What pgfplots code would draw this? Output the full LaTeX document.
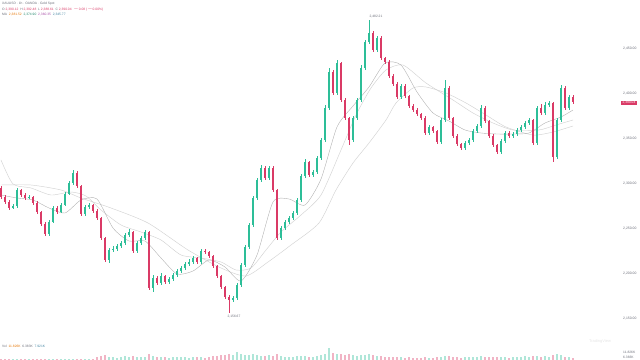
\documentclass[border=0pt]{standalone}
\usepackage{pgfplots}
\pgfplotsset{compat=1.18}
\usepackage{pgfplotstable}
\usepackage{fontspec}
\setmainfont{Liberation Sans}
\definecolor{cgreen}{HTML}{2DBE98}
\definecolor{cred}{HTML}{DA3A66}
\definecolor{malin}{HTML}{D2D2D2}
\definecolor{txtg}{HTML}{6A6D78}

\pgfplotstableread{
i o h l c v
0 172 174 161 163 1
1 163 165 156 158 1
2 158 160 150 152 1
3 152 156 151 154 1
4 154 172 152 170 1
5 170 171 163 165 1
6 165 167 160 162 1
7 162 165 161 163 1
8 163 164 155 157 1
9 157 159 146 148 1
10 148 149 134 136 1
11 136 138 124 126 1
12 126 140 124 138 1
13 138 154 137 152 1
14 152 154 146 148 1
15 148 157 147 155 1
16 155 168 154 166 1
17 166 179 165 177 1
18 177 190 175 187 1
19 187 189 172 174 1
20 174 175 144 146 1
21 146 155 144 153 1
22 153 157 151 155 1
23 155 156 147 149 1
24 149 151 140 142 3
25 142 143 120 122 4
26 122 123 98 100 5
27 100 112 97 110 3
28 110 114 108 111 3
29 111 116 109 114 2
30 114 119 112 117 3
31 117 127 115 125 4
32 125 131 123 128 3
33 128 129 107 109 4
34 109 119 107 117 3
35 117 124 115 122 3
36 122 130 120 128 3
37 128 129 70 72 6
38 72 85 68 82 4
39 82 84 75 77 3
40 77 87 75 84 3
41 84 85 76 78 3
42 78 83 76 81 2
43 81 87 79 85 3
44 85 91 83 89 3
45 89 94 87 92 3
46 92 98 90 96 3
47 96 101 94 98 2
48 98 104 96 102 3
49 102 103 96 98 3
50 98 111 96 109 3
51 109 111 106 108 2
52 108 109 102 104 3
53 104 105 92 94 4
54 94 95 82 84 4
55 84 85 71 73 5
56 73 74 61 63 5
57 63 65 47 60 6
58 60 64 58 62 5
59 62 77 60 75 8
60 75 97 73 95 6
61 95 115 93 113 5
62 113 137 111 135 5
63 135 164 133 162 6
64 162 182 160 180 5
65 180 195 178 192 4
66 192 194 180 182 4
67 182 194 180 192 5
68 192 194 168 170 4
69 170 171 120 122 6
70 122 134 120 132 4
71 132 140 130 138 3
72 138 144 136 142 3
73 142 149 140 147 3
74 147 162 145 160 4
75 160 186 158 184 4
76 184 201 182 198 4
77 198 199 183 185 3
78 185 190 183 188 3
79 188 204 186 202 4
80 202 222 200 220 5
81 220 255 218 252 6
82 252 292 250 288 12
83 288 290 265 267 7
84 267 300 265 297 6
85 297 298 258 260 6
86 260 262 240 242 5
87 242 243 215 220 6
88 220 244 218 242 5
89 242 262 240 260 4
90 260 295 258 292 5
91 292 320 290 318 5
92 318 340 316 327 6
93 327 329 308 310 5
94 310 324 308 322 4
95 322 324 300 302 4
96 302 303 296 298 3
97 298 300 282 284 3
98 284 286 274 276 3
99 276 278 261 263 3
100 263 276 261 274 3
101 274 276 262 264 2
102 264 265 252 254 3
103 254 256 248 250 2
104 250 252 244 246 2
105 246 247 240 242 2
106 242 244 225 227 3
107 227 235 225 233 2
108 233 234 227 229 2
109 229 230 216 218 3
110 218 242 216 240 3
111 240 280 238 272 4
112 272 274 240 242 4
113 242 243 222 224 3
114 224 226 214 216 3
115 216 217 210 212 2
116 212 219 210 217 3
117 217 222 215 220 3
118 220 231 218 229 3
119 229 236 227 234 3
120 234 255 232 252 4
121 252 254 237 239 3
122 239 240 222 224 3
123 224 226 213 215 3
124 215 216 206 208 3
125 208 221 206 219 3
126 219 229 217 227 3
127 227 229 222 224 2
128 224 228 222 226 3
129 226 232 224 230 3
130 230 235 228 233 3
131 233 239 231 237 4
132 237 242 235 240 3
133 240 241 215 217 4
134 217 254 215 252 4
135 252 256 245 247 3
136 247 258 245 255 4
137 255 259 253 257 3
138 257 258 198 203 5
139 203 242 201 240 6
140 240 275 238 272 5
141 272 274 250 252 3
142 252 265 250 263 3
143 263 265 256 258 2
}\candles

\pgfplotstableread{
i v
0 165
4 162
8 160
12 152
16 147
20 160
24 161
28 132
32 119
36 119
40 102
44 86
48 89
52 100
56 93
60 79
64 105
68 158
72 161
76 155
80 181
84 233
88 254
92 273
96 297
100 295
104 268
108 247
112 239
116 230
120 227
124 226
128 226
132 227
136 237
140 243
143 250
}\maA

\pgfplotstableread{
i v
0 200
3 176
7.5 172
12.5 165
17.5 168
21.25 164
25 150
30 135
35 128
40 120
45 105
50 102
55 98
58.75 90
62.5 92
66.25 110
70 128
75 145
80 165
85 210
88.75 245
92.5 272
96.25 290
100.5 295
106.25 277
113 260
118 247
123 237
128 230
134.5 230
138.75 235
143 240
}\maB

\pgfplotstableread{
i v
0 175
7.5 175
15 170
20 162
27.5 152
36.75 137
46.75 110
55 92
61.25 84
66.75 98
72.5 115
79.5 137
83.75 170
88 197
92 217
96.25 240
98.75 257
103 272
106.25 273
111.25 267
116.25 257
121.25 245
126.25 233
133 225
138 228
143 234
}\maC

\begin{document}
\begin{tikzpicture}
\begin{axis}[
  at={(0,0)}, anchor=south west,
  scale only axis, width=610bp, height=360bp,
  xmin=-0.25, xmax=152.25, ymin=0, ymax=360,
  axis line style={draw=none},
  xtick=\empty,
  ytick={41,86,131,176,221,266,311},
  yticklabels={{2,150.00},{2,200.00},{2,250.00},{2,300.00},{2,350.00},{2,400.00},{2,450.00}},
  yticklabel pos=right,
  major tick length=0pt,
  yticklabel style={font=\fontsize{3.4}{4}\selectfont, text=txtg, anchor=west, inner sep=0pt, xshift=13bp},
  clip=true,
]
% moving averages
\addplot[malin, line width=0.45bp, smooth, tension=0.4] table[x=i, y=v] {\maC};
\addplot[malin, line width=0.45bp, smooth, tension=0.4] table[x=i, y=v] {\maB};
\addplot[malin!85!black, line width=0.4bp, smooth, tension=0.4] table[x=i, y=v] {\maA};
% wicks up
\addplot[draw=none, mark=none, restrict expr to domain={\thisrow{c}-\thisrow{o}}{0:1000},
  error bars/.cd, y dir=plus, y explicit, error mark=none,
  error bar style={line width=0.5bp, color=cgreen}]
  table[x=i, y=l, y error plus expr=\thisrow{h}-\thisrow{l}] {\candles};
% wicks down
\addplot[draw=none, mark=none, restrict expr to domain={\thisrow{c}-\thisrow{o}}{-1000:-0.001},
  error bars/.cd, y dir=plus, y explicit, error mark=none,
  error bar style={line width=0.5bp, color=cred}]
  table[x=i, y=l, y error plus expr=\thisrow{h}-\thisrow{l}] {\candles};
% bodies up
\addplot[draw=none, mark=none, restrict expr to domain={\thisrow{c}-\thisrow{o}}{0:1000},
  error bars/.cd, y dir=plus, y explicit, error mark=none,
  error bar style={line width=2.3bp, color=cgreen}]
  table[x=i, y=o, y error plus expr=\thisrow{c}-\thisrow{o}] {\candles};
% bodies down
\addplot[draw=none, mark=none, restrict expr to domain={\thisrow{c}-\thisrow{o}}{-1000:-0.001},
  error bars/.cd, y dir=plus, y explicit, error mark=none,
  error bar style={line width=2.3bp, color=cred}]
  table[x=i, y=c, y error plus expr=\thisrow{o}-\thisrow{c}] {\candles};
% volume
\addplot[ycomb, line width=2bp, color=cgreen!38, mark=none,
  restrict expr to domain={\thisrow{c}-\thisrow{o}}{0:1000}]
  table[x=i, y=v] {\candles};
\addplot[ycomb, line width=2bp, color=cred!38, mark=none,
  restrict expr to domain={\thisrow{c}-\thisrow{o}}{-1000:-0.001}]
  table[x=i, y=v] {\candles};
\end{axis}
% legend texts
\begin{scope}[font=\fontsize{3.3}{4}\selectfont]
\node[anchor=west, inner sep=0pt, text=txtg] at (2bp,356bp) {XAUUSD · 1h · OANDA · Gold Spot};
\node[anchor=west, inner sep=0pt, text=txtg] at (2bp,350.5bp) {O \textcolor{cred}{2,390.12}\ \ H \textcolor{cred}{2,392.48}\ \ L \textcolor{cred}{2,388.61}\ \ C \textcolor{cred}{2,390.04}\ \ \textcolor{cred}{$-$0.08 ($-$0.00\%)}};
\node[anchor=west, inner sep=0pt, text=txtg] at (2bp,345.5bp) {MA\ \ \textcolor{orange!90!black}{2,381.52}\ \ \textcolor{cgreen!70!black}{2,374.90}\ \ \textcolor{violet!70}{2,360.35}\ \ \textcolor{cyan!60!black}{2,345.77}};
\node[anchor=west, inner sep=0pt, text=txtg] at (2bp,14bp) {Vol\ \ \textcolor{orange!90!black}{11.826K}\ \ \textcolor{txtg}{6.383K}\ \ \textcolor{cyan!60!black}{7.921K}};
\node[inner sep=0pt, text=txtg] at (376bp,343bp) {2,482.21};
\node[inner sep=0pt, text=txtg] at (234bp,43bp) {2,156.67};
\node[fill=cred, text=white, inner xsep=1.2bp, inner ysep=1bp] at (629bp,257bp) {2,390.04};
\node[anchor=west, inner sep=0pt, text=txtg] at (623bp,8bp) {11.826K};
\node[anchor=west, inner sep=0pt, text=txtg] at (623bp,3bp) {6.383K};
\node[inner sep=0pt, text=black!10, font=\fontsize{4}{5}\selectfont] at (600bp,19bp) {TradingView};
\end{scope}
\pgfresetboundingbox
\useasboundingbox (0,0) rectangle (640bp,360bp);
\end{tikzpicture}
\end{document}
